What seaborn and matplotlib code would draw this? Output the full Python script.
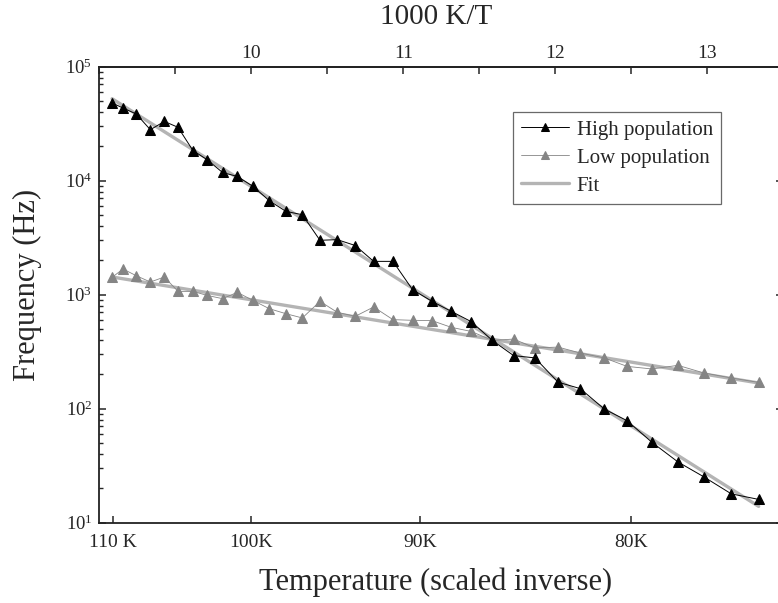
import numpy as np
import pandas as pd
import matplotlib
matplotlib.use("Agg")
import matplotlib.pyplot as plt
from matplotlib.ticker import FixedLocator, MultipleLocator, LogLocator, NullFormatter
import seaborn as sns

# ---------------- data ----------------
inv_T = [9.084, 9.156, 9.243, 9.336, 9.428, 9.518, 9.616, 9.709, 9.811, 9.908,
         10.011, 10.118, 10.228, 10.336, 10.452, 10.566, 10.684, 10.805, 10.932, 11.061,
         11.189, 11.316, 11.447, 11.586, 11.726, 11.866, 12.018, 12.164, 12.322, 12.472,
         12.636, 12.807, 12.976, 13.158, 13.338]
freq_high = [48100, 43400, 38500, 28000, 33100, 29400, 18400, 15300, 11800, 10900,
             8920, 6680, 5380, 5030, 3000, 3040, 2700, 1960, 1960, 1107,
             874, 714, 580, 397, 292, 279, 171, 150, 99.4, 78.5,
             50.7, 34.1, 25.3, 17.9, 16.0]
freq_low = [1419, 1680, 1468, 1292, 1429, 1069, 1069, 986, 923, 1048,
            891, 754, 681, 625, 874, 700, 646, 780, 604, 596,
            592, 517, 476, 397, 408, 341, 347, 308, 279, 235,
            223, 240, 206, 186, 170]
fit_x = [9.084, 13.338]
fit_high = [52400, 13.9]
fit_low = [1430, 168]

temp_ticks_K = [110, 100, 90, 80]
temp_tick_labels = ["110 K", "100K", "90K", "80K"]
top_ticks = [10, 11, 12, 13]

series_labels = ["High population", "Low population", "Fit"]

# ---------------- style ----------------
sns.set_style("ticks")
serif = ["Liberation Serif", "DejaVu Serif"]
plt.rcParams["font.family"] = serif
plt.rcParams["mathtext.fontset"] = "stix"

fig = plt.figure(figsize=(7.78, 6.03), dpi=100)
ax = fig.add_axes([0.1276, 0.1332, 0.8792, 0.7562])

fit_color = "#b4b4b4"
low_color = "#858585"

df_fit = pd.DataFrame({"x": fit_x, "high": fit_high, "low": fit_low})
sns.lineplot(data=df_fit, x="x", y="high", color=fit_color, lw=2.4, ax=ax, zorder=1)
sns.lineplot(data=df_fit, x="x", y="low", color=fit_color, lw=2.4, ax=ax, zorder=1)

df = pd.DataFrame({"x": inv_T, "high": freq_high, "low": freq_low})
sns.lineplot(data=df, x="x", y="low", color=low_color, lw=0.6, marker="^",
             markersize=7.5, markeredgecolor=low_color, markerfacecolor=low_color,
             ax=ax, zorder=2)
sns.lineplot(data=df, x="x", y="high", color="black", lw=0.7, marker="^",
             markersize=7.5, markeredgecolor="black", markerfacecolor="black",
             ax=ax, zorder=3)

ax.set_yscale("log")
ax.set_ylim(10, 1e5)
ax.set_xlim(9.0, 13.5)

# bottom axis: temperatures at their 1000/T position
ax.xaxis.set_major_locator(FixedLocator([1000.0 / t for t in temp_ticks_K]))
ax.set_xticklabels(temp_tick_labels)
ax.tick_params(axis="x", which="major", direction="in", length=5, width=1.1,
               labelsize=14, pad=8)
ax.tick_params(axis="x", which="minor", bottom=False)

# left axis
ax.yaxis.set_major_locator(LogLocator(base=10, numticks=10))
ax.yaxis.set_minor_locator(LogLocator(base=10, subs=np.arange(2, 10), numticks=20))
ax.yaxis.set_minor_formatter(NullFormatter())
ax.tick_params(axis="y", which="major", direction="in", length=5, width=1.1,
               labelsize=13.5, pad=5, right=True)
ax.tick_params(axis="y", which="minor", direction="in", length=3, width=1.0,
               right=False)

for s in ["left", "bottom", "top"]:
    ax.spines[s].set_linewidth(1.3)
    ax.spines[s].set_color("#222222")
ax.spines["right"].set_visible(False)

ax.set_xlabel("Temperature (scaled inverse)", fontsize=22)
ax.xaxis.set_label_coords(0.492, -0.098)
ax.set_ylabel("Frequency (Hz)", fontsize=22)
ax.yaxis.set_label_coords(-0.084, 0.521)

# top axis: 1000 K/T
sec = ax.secondary_xaxis("top")
sec.xaxis.set_major_locator(FixedLocator(top_ticks))
sec.xaxis.set_minor_locator(MultipleLocator(0.5))
sec.tick_params(which="major", direction="in", length=5, width=1.1, labelsize=14, pad=3.4)
sec.tick_params(which="minor", direction="in", length=5, width=1.1)
sec.spines["top"].set_linewidth(1.3)
sec.set_xlabel("1000 K/T", fontsize=21)
sec.xaxis.set_label_coords(0.492, 1.094, transform=ax.transAxes)

# legend
h_high = ax.lines[3]
h_low = ax.lines[2]
h_fit = ax.lines[0]
leg = ax.legend([h_high, h_low, h_fit], series_labels, loc="upper left",
                bbox_to_anchor=(0.605, 0.901), borderaxespad=0, fontsize=15,
                frameon=True, fancybox=False, edgecolor="#444444",
                handlelength=2.3, handletextpad=0.35, labelspacing=0.4,
                markerscale=0.7, borderpad=0.4)
leg.get_frame().set_linewidth(0.9)

fig.savefig("out.png", dpi=100)
